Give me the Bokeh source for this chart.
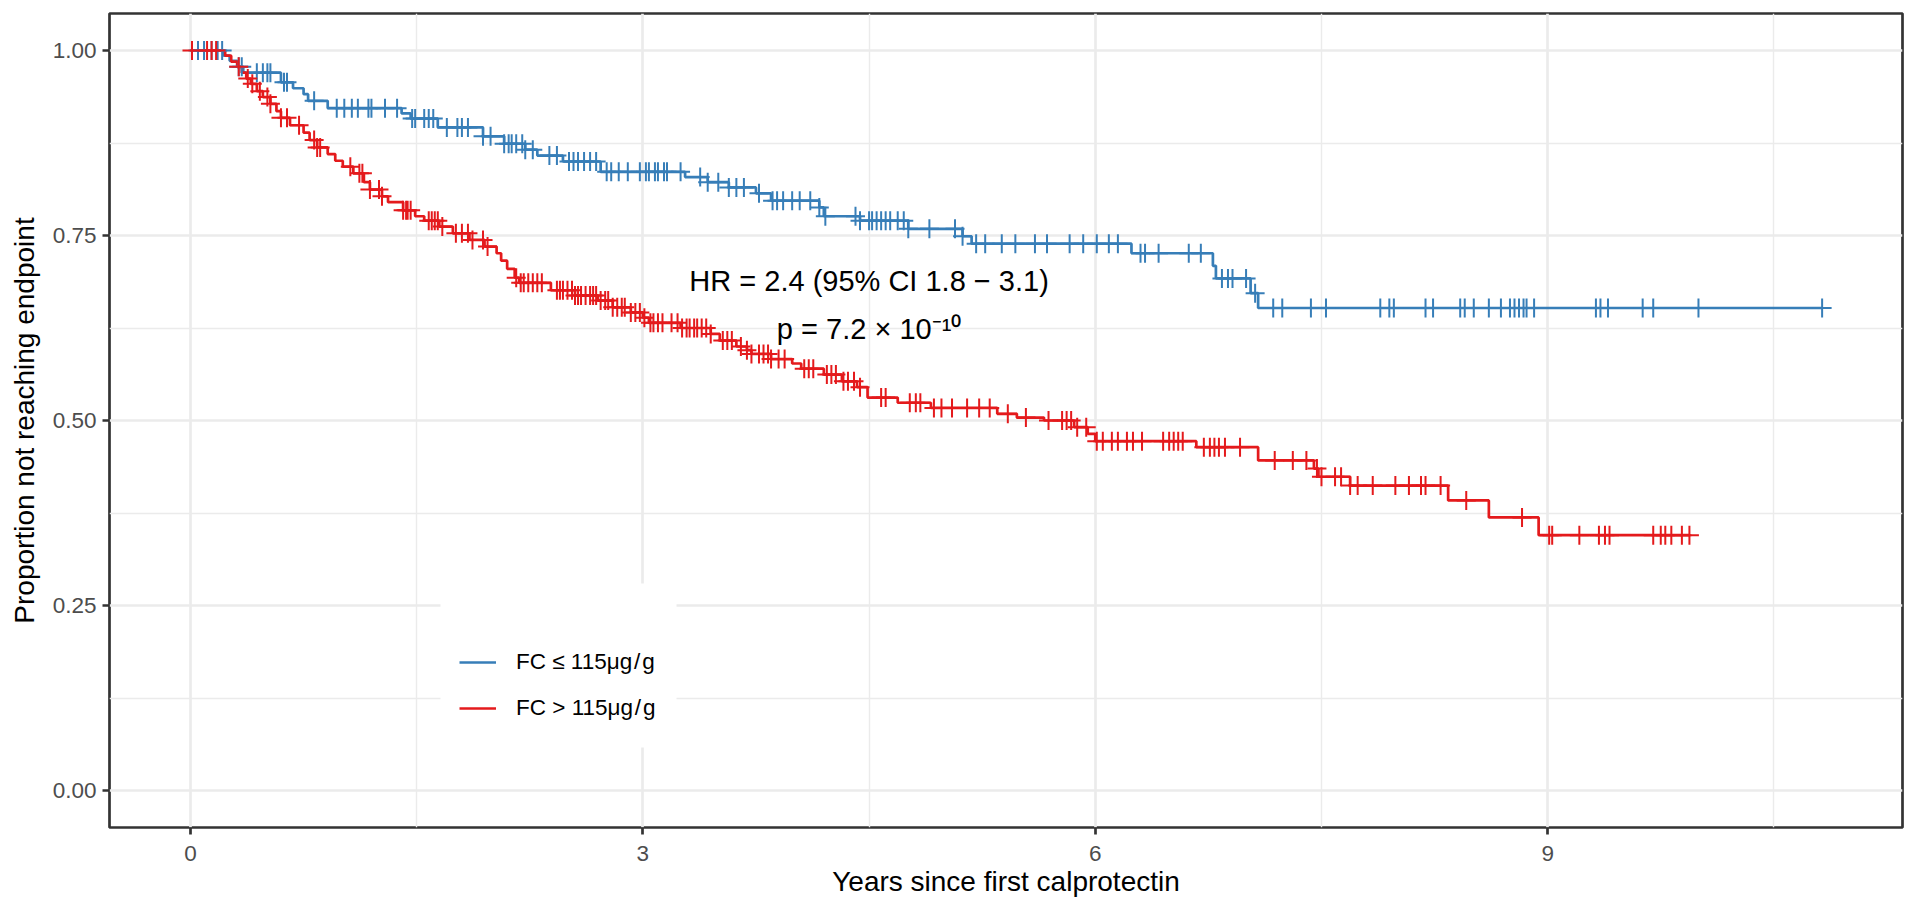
from bokeh.plotting import figure
from bokeh.models import Range1d, FixedTicker, Legend, LegendItem, BoxAnnotation
from bokeh.embed import file_html
from bokeh.resources import INLINE
from bokeh.core.properties import value
import numpy as np

# ---------------- data ----------------
# Kaplan-Meier step curves: event times (years) and survival after each step
blue_t = [0, 0.22, 0.26, 0.31, 0.35, 0.60, 0.68, 0.75, 0.78, 0.91, 1.40, 1.46, 1.64,
          1.94, 2.08, 2.22, 2.30, 2.47, 2.72, 3.28, 3.43, 3.57, 3.75, 3.85, 4.17, 4.20,
          4.44, 4.76, 5.12, 5.18, 6.24, 6.78, 6.80, 7.03, 7.08]
blue_s = [1.0, 0.993, 0.986, 0.978, 0.970, 0.957, 0.949, 0.941, 0.932, 0.922, 0.915,
          0.908, 0.896, 0.884, 0.874, 0.866, 0.858, 0.850, 0.836, 0.829, 0.822, 0.815,
          0.807, 0.797, 0.788, 0.776, 0.770, 0.759, 0.749, 0.739, 0.726, 0.709, 0.692,
          0.672, 0.652]
blue_end = 10.82
blue_censor = [0.05, 0.09, 0.14, 0.18, 0.21, 0.32, 0.34, 0.44, 0.48, 0.51, 0.53, 0.62,
               0.64, 0.82, 0.97, 1.02, 1.07, 1.11, 1.18, 1.20, 1.29, 1.37, 1.47, 1.49,
               1.55, 1.58, 1.61, 1.70, 1.77, 1.80, 1.84, 1.94, 1.99, 2.08, 2.11, 2.13,
               2.16, 2.20, 2.22, 2.27, 2.38, 2.43, 2.51, 2.54, 2.57, 2.61, 2.65, 2.69,
               2.76, 2.79, 2.84, 2.90, 2.98, 3.02, 3.04, 3.08, 3.10, 3.14, 3.16, 3.25,
               3.38, 3.43, 3.50, 3.57, 3.62, 3.67, 3.77, 3.86, 3.89, 3.93, 3.99, 4.04,
               4.11, 4.17, 4.21, 4.41, 4.44, 4.50, 4.52, 4.55, 4.58, 4.61, 4.64, 4.69,
               4.73, 4.76, 4.90, 5.07, 5.12, 5.21, 5.27, 5.38, 5.47, 5.60, 5.68, 5.83,
               5.92, 6.01, 6.09, 6.15, 6.30, 6.33, 6.42, 6.62, 6.70, 6.84, 6.88, 6.91,
               7.00, 7.06, 7.18, 7.24, 7.43, 7.53, 7.89, 7.95, 7.98, 8.19, 8.24, 8.42,
               8.45, 8.51, 8.61, 8.69, 8.75, 8.78, 8.81, 8.84, 8.86, 8.91, 9.32, 9.35,
               9.40, 9.63, 9.70, 10.00, 10.82]

red_t = [0, 0.23, 0.27, 0.31, 0.34, 0.37, 0.40, 0.44, 0.48, 0.53, 0.57, 0.60, 0.66,
         0.75, 0.79, 0.84, 0.91, 0.96, 1.01, 1.08, 1.15, 1.19, 1.27, 1.31, 1.41, 1.49,
         1.55, 1.65, 1.74, 1.85, 1.95, 2.03, 2.06, 2.10, 2.15, 2.18, 2.39, 2.55, 2.70,
         2.80, 2.92, 3.00, 3.04, 3.25, 3.45, 3.51, 3.62, 3.69, 3.72, 3.85, 3.99, 4.05,
         4.20, 4.32, 4.42, 4.49, 4.69, 4.91, 5.35, 5.48, 5.66, 5.86, 5.95, 6.00, 6.67,
         7.08, 7.45, 7.48, 7.69, 8.34, 8.61, 8.94]
red_s = [1.0, 0.993, 0.985, 0.978, 0.970, 0.962, 0.955, 0.945, 0.937, 0.928, 0.918,
         0.909, 0.899, 0.889, 0.879, 0.869, 0.860, 0.851, 0.843, 0.834, 0.822, 0.812,
         0.803, 0.795, 0.784, 0.776, 0.770, 0.762, 0.753, 0.744, 0.735, 0.726, 0.716,
         0.705, 0.693, 0.686, 0.676, 0.669, 0.662, 0.653, 0.646, 0.639, 0.632, 0.625,
         0.617, 0.608, 0.600, 0.595, 0.590, 0.583, 0.577, 0.570, 0.562, 0.553, 0.545,
         0.531, 0.524, 0.517, 0.509, 0.504, 0.500, 0.491, 0.482, 0.472, 0.464, 0.446,
         0.435, 0.424, 0.412, 0.392, 0.369, 0.345]
red_end = 9.94
red_censor = [0.01, 0.11, 0.14, 0.17, 0.32, 0.38, 0.41, 0.46, 0.51, 0.53, 0.60, 0.64,
              0.72, 0.82, 0.84, 0.86, 1.06, 1.12, 1.14, 1.19, 1.25, 1.27, 1.41, 1.43,
              1.44, 1.46, 1.58, 1.60, 1.62, 1.64, 1.67, 1.76, 1.80, 1.84, 1.87, 1.94,
              1.97, 2.16, 2.19, 2.21, 2.24, 2.27, 2.30, 2.33, 2.43, 2.45, 2.47, 2.50,
              2.53, 2.55, 2.57, 2.59, 2.62, 2.65, 2.67, 2.69, 2.72, 2.75, 2.77, 2.80,
              2.83, 2.86, 2.88, 2.92, 2.95, 2.98, 3.01, 3.05, 3.07, 3.10, 3.13, 3.19,
              3.23, 3.26, 3.29, 3.31, 3.34, 3.36, 3.39, 3.42, 3.45, 3.53, 3.56, 3.59,
              3.65, 3.69, 3.72, 3.77, 3.80, 3.83, 3.85, 3.90, 3.94, 4.07, 4.10, 4.13,
              4.22, 4.25, 4.28, 4.33, 4.36, 4.40, 4.44, 4.58, 4.61, 4.77, 4.81, 4.84,
              4.93, 4.98, 5.05, 5.15, 5.23, 5.30, 5.42, 5.54, 5.69, 5.78, 5.81, 5.84,
              5.88, 5.94, 6.01, 6.05, 6.11, 6.15, 6.21, 6.25, 6.31, 6.45, 6.49, 6.52,
              6.55, 6.58, 6.72, 6.76, 6.79, 6.82, 6.86, 6.96, 7.19, 7.31, 7.40, 7.47,
              7.50, 7.59, 7.63, 7.69, 7.74, 7.84, 7.99, 8.08, 8.16, 8.19, 8.29, 8.46,
              8.83, 9.01, 9.03, 9.21, 9.34, 9.38, 9.41, 9.70, 9.75, 9.78, 9.82, 9.89,
              9.94]

group_labels = ["FC \u2264 115\u03bcg\u200a/\u200ag", "FC > 115\u03bcg\u200a/\u200ag"]
group_colors = ["#377EB8", "#E41A1C"]

x_ticks = [0, 3, 6, 9]
x_tick_labels = ["0", "3", "6", "9"]
x_minor = [1.5, 4.5, 7.5, 10.5]
y_ticks = [0, 0.25, 0.5, 0.75, 1.0]
y_tick_labels = ["0.00", "0.25", "0.50", "0.75", "1.00"]
y_minor = [0.125, 0.375, 0.625, 0.875]

x_title = "Years since first calprotectin"
y_title = "Proportion not reaching endpoint"

hr_text = "HR = 2.4 (95% CI 1.8 \u2212 3.1)"
p_text = "p = 7.2 \u00d7 10\u207b\u00b9\u2070"
annot_x = 4.5
hr_y = 0.689
p_y = 0.624

FONT = "Liberation Sans"

# ---------------- figure ----------------
p = figure(width=1905, height=900, output_backend="svg", toolbar_location=None,
           x_range=Range1d(-0.537, 11.353), y_range=Range1d(-0.05, 1.05),
           min_border_left=109, min_border_right=3, min_border_top=13,
           min_border_bottom=73)
p.background_fill_color = "white"
p.border_fill_color = "white"
p.outline_line_color = "#333333"
p.outline_line_width = 2.7

p.xaxis.ticker = FixedTicker(ticks=x_ticks, minor_ticks=x_minor)
p.yaxis.ticker = FixedTicker(ticks=y_ticks, minor_ticks=y_minor)
p.xaxis.major_label_overrides = {t: l for t, l in zip(x_ticks, x_tick_labels)}
p.yaxis.major_label_overrides = {t: l for t, l in zip(y_ticks, y_tick_labels)}

for g in (p.xgrid, p.ygrid):
    g.grid_line_color = "#EBEBEB"
    g.grid_line_width = 2.7
    g.minor_grid_line_color = "#EBEBEB"
    g.minor_grid_line_width = 1.4

for ax in (p.xaxis, p.yaxis):
    ax.axis_line_color = None
    ax.major_tick_line_color = "#333333"
    ax.major_tick_line_width = 2.7
    ax.major_tick_out = 7
    ax.major_tick_in = 0
    ax.minor_tick_line_color = None
    ax.major_label_text_font = FONT
    ax.major_label_text_font_size = "22.5px"
    ax.major_label_text_color = "#4D4D4D"
    ax.axis_label_text_font = FONT
    ax.axis_label_text_font_size = "28px"
    ax.axis_label_text_font_style = "normal"
    ax.axis_label_text_color = "black"

p.xaxis.axis_label = x_title
p.yaxis.axis_label = y_title
p.xaxis.major_label_standoff = 11
p.yaxis.major_label_standoff = 6
p.xaxis.axis_label_standoff = 2
p.yaxis.axis_label_standoff = 10


def step_xy(ts, ss, end):
    return list(ts) + [end], list(ss) + [ss[-1]]


def censor_y(ts, ss, cens):
    idx = np.searchsorted(np.array(ts), np.array(cens), side="right") - 1
    return list(np.array(ss)[idx])


bx, by = step_xy(blue_t, blue_s, blue_end)
rx, ry = step_xy(red_t, red_s, red_end)

r_blue = p.step(bx, by, mode="after", line_color=group_colors[0], line_width=2.7)
r_red = p.step(rx, ry, mode="after", line_color=group_colors[1], line_width=2.7)

p.scatter(blue_censor, censor_y(blue_t, blue_s, blue_censor), marker="cross",
          size=19, line_color=group_colors[0], line_width=2)
p.scatter(red_censor, censor_y(red_t, red_s, red_censor), marker="cross",
          size=19, line_color=group_colors[1], line_width=2)

p.text(x=[annot_x], y=[hr_y], text=[hr_text], text_font=value(FONT),
       text_font_size="29px", text_align="center", text_baseline="alphabetic",
       text_color="black")
p.text(x=[annot_x], y=[p_y], text=[p_text], text_font=value(FONT),
       text_font_size="29px", text_align="center", text_baseline="alphabetic",
       text_color="black")

# white legend background box (screen units, relative to the plot frame)
legend_box = BoxAnnotation(left=331, right=567, bottom=80, top=244,
                           left_units="screen", right_units="screen",
                           bottom_units="screen", top_units="screen",
                           fill_color="white", fill_alpha=1.0, line_color=None)
p.add_layout(legend_box)

legend = Legend(items=[LegendItem(label=group_labels[0], renderers=[r_blue]),
                       LegendItem(label=group_labels[1], renderers=[r_red])],
                location=(350, 97), title=" ")
legend.background_fill_color = "white"
legend.background_fill_alpha = 1.0
legend.border_line_color = None
legend.padding = 33
legend.spacing = 2
legend.margin = 0
legend.glyph_width = 37
legend.glyph_height = 44
legend.label_height = 44
legend.label_standoff = 20
legend.label_text_font = FONT
legend.label_text_font_size = "22.5px"
legend.label_text_color = "black"
legend.title_text_font = FONT
legend.title_text_font_size = "22.5px"
legend.title_standoff = 22
p.add_layout(legend)

open("out.html", "w").write(file_html(p, INLINE))
